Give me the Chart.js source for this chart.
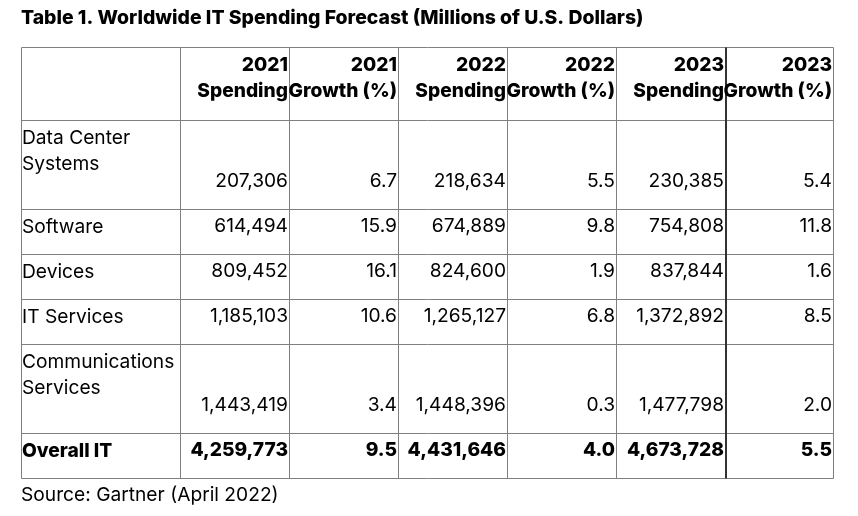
<!DOCTYPE html>
<html>
<head>
<meta charset="utf-8">
<script src="https://cdn.jsdelivr.net/npm/chart.js@4.4.1/dist/chart.umd.min.js"></script>
<style>
  html, body { margin: 0; padding: 0; background: #fff; }
  #wrap { width: 858px; height: 516px; }
</style>
</head>
<body>
<div id="wrap"><canvas id="table" width="858" height="516"></canvas></div>
<script>
// Table 1 values (millions of U.S. dollars)
const titleText = 'Table 1. Worldwide IT Spending Forecast (Millions of U.S. Dollars)';
const sourceText = 'Source: Gartner (April 2022)';

const categories = ['Data Center Systems', 'Software', 'Devices', 'IT Services', 'Communications Services', 'Overall IT'];
const spending2021 = [207306, 614494, 809452, 1185103, 1443419, 4259773];
const growth2021 = [6.7, 15.9, 16.1, 10.6, 3.4, 9.5];
const spending2022 = [218634, 674889, 824600, 1265127, 1448396, 4431646];
const growth2022 = [5.5, 9.8, 1.9, 6.8, 0.3, 4.0];
const spending2023 = [230385, 754808, 837844, 1372892, 1477798, 4673728];
const growth2023 = [5.4, 11.8, 1.6, 8.5, 2.0, 5.5];
const columnHeaders = [
    ['2021', 'Spending'], ['2021', 'Growth (%)'],
    ['2022', 'Spending'], ['2022', 'Growth (%)'],
    ['2023', 'Spending'], ['2023', 'Growth (%)']
];

// layout: cell edges in px, measured from the table's top-left corner
const colEdges = [0, 159, 268, 377, 486, 595, 704, 812];
const rowEdges = [0, 73, 162, 207, 252, 297, 386, 431];

const columns = [spending2021, growth2021, spending2022, growth2022, spending2023, growth2023];
const isGrowth = [false, true, false, true, false, true];

const FONT = 'Inter';
const SIZE = 19.2;
const BOLD = '800 ';
const LINE = 26.7;

function fmt(v, growth) {
    return growth ? v.toFixed(1) : v.toLocaleString('en-US');
}

function wrap(ctx, text, maxW) {
    const words = text.split(' ');
    const lines = [];
    let cur = '';
    words.forEach(w => {
        const test = cur ? cur + ' ' + w : w;
        if (cur && ctx.measureText(test).width > maxW) {
            lines.push(cur);
            cur = w;
        } else {
            cur = test;
        }
    });
    if (cur) lines.push(cur);
    return lines;
}

const tablePlugin = {
    id: 'tableCells',
    afterDraw(chart) {
        const { ctx, scales: { x, y } } = chart;
        const px = v => Math.floor(x.getPixelForValue(v)) + 0.5;
        const py = v => Math.floor(y.getPixelForValue(v)) + 0.5;
        const left = px(colEdges[0]), right = px(colEdges[colEdges.length - 1]);
        const top = py(rowEdges[0]), bottom = py(rowEdges[rowEdges.length - 1]);

        ctx.save();
        // grid
        ctx.lineWidth = 1;
        ctx.strokeStyle = '#808080';
        rowEdges.forEach(r => {
            ctx.beginPath();
            ctx.moveTo(left, py(r));
            ctx.lineTo(right, py(r));
            ctx.stroke();
        });
        colEdges.forEach((c, i) => {
            ctx.beginPath();
            if (i === 6) {
                ctx.strokeStyle = '#333';
                ctx.lineWidth = 2;
                ctx.moveTo(px(c) + 0.5, top);
                ctx.lineTo(px(c) + 0.5, bottom);
            } else {
                ctx.strokeStyle = '#808080';
                ctx.lineWidth = 1;
                ctx.moveTo(px(c), top);
                ctx.lineTo(px(c), bottom);
            }
            ctx.stroke();
        });

        ctx.fillStyle = '#000';
        ctx.textBaseline = 'alphabetic';

        // header row
        ctx.font = BOLD + SIZE + 'px ' + FONT;
        ctx.textAlign = 'right';
        columnHeaders.forEach((h, c) => {
            const xr = x.getPixelForValue(colEdges[c + 2]) - 1;
            h.forEach((line, k) => {
                ctx.fillText(line, xr, y.getPixelForValue(rowEdges[0]) + 22.7 + LINE * k);
            });
        });

        // body rows
        categories.forEach((cat, r) => {
            const bold = r === categories.length - 1;
            ctx.font = (bold ? BOLD : '') + SIZE + 'px ' + FONT;
            const rTop = y.getPixelForValue(rowEdges[r + 1]);
            const rBot = y.getPixelForValue(rowEdges[r + 2]);
            ctx.textAlign = 'left';
            const colW = x.getPixelForValue(colEdges[1]) - x.getPixelForValue(colEdges[0]) - 1;
            wrap(ctx, cat, colW).forEach((line, k) => {
                ctx.fillText(line, x.getPixelForValue(colEdges[0]) + 1, rTop + 22.7 + LINE * k);
            });
            ctx.textAlign = 'right';
            columns.forEach((series, c) => {
                const xr = x.getPixelForValue(colEdges[c + 2]) - 1;
                ctx.fillText(fmt(series[r], isGrowth[c]), xr, rBot - 23);
            });
        });
        ctx.restore();
    }
};

new Chart(document.getElementById('table'), {
    type: 'scatter',
    data: { datasets: [] },
    options: {
        responsive: false,
        animation: false,
        layout: { padding: { left: 21, right: 25, top: 0, bottom: 9 } },
        scales: {
            x: { type: 'linear', min: 0, max: 812, display: false },
            y: { type: 'linear', min: 0, max: 431, reverse: true, display: false }
        },
        plugins: {
            legend: { display: false },
            tooltip: { enabled: false },
            title: {
                display: true,
                text: titleText,
                align: 'start',
                color: '#000',
                font: { family: FONT, size: 19.4, weight: 800 },
                padding: { top: 7, bottom: 17.7 }
            },
            subtitle: {
                display: true,
                position: 'bottom',
                align: 'start',
                text: sourceText,
                color: '#000',
                font: { family: FONT, size: SIZE, weight: 'normal' },
                padding: { top: 5, bottom: 0 }
            }
        }
    },
    plugins: [tablePlugin]
});
</script>
</body>
</html>
